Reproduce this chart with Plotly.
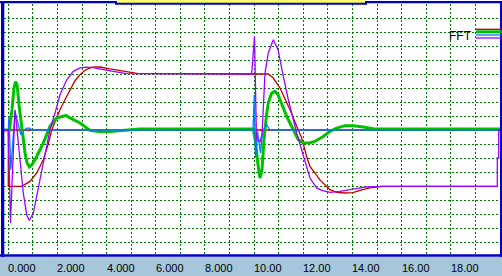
import plotly.graph_objects as go

# ---- data (time in s, value in grid units) ----
red_t = [-0.2, 0.0, 0.0, 0.545, 0.883, 1.155, 1.424, 1.615, 1.765, 2.103, 2.306, 2.51, 2.713, 2.917,
         3.12, 3.405, 3.73, 4.137, 4.544, 4.95, 5.235, 10.576, 10.779, 11.05, 11.458, 11.73, 11.934,
         12.137, 12.27, 12.678, 13.085, 13.358, 13.695, 14.02, 14.305, 14.712, 15.188, 19.866]
red_y = [0.0, 0.0, -4.03, -4.03, -3.67, -3.07, -2.12, -1.05, 0.0, 1.45, 2.16, 2.88, 3.52, 3.95,
         4.27, 4.49, 4.5, 4.36, 4.24, 4.11, 4.04, 4.0, 3.71, 3.0, 1.45, 0.26, -0.57,
         -1.89, -2.6, -3.56, -4.26, -4.45, -4.5, -4.48, -4.31, -4.14, -4.03, -4.03]

red0_t = [-0.2, 20.0]
red0_y = [0.0, 0.0]

purple_t = [-0.2, 0.0, 0.089, 0.273, 0.342, 0.476, 0.61, 0.748, 0.854, 1.017, 1.155, 1.289, 1.493,
            1.696, 1.9, 2.103, 2.375, 2.644, 2.917, 3.189, 3.445, 3.73, 4.259, 4.816, 9.9, 10.014,
            10.096, 10.238, 10.32, 10.441, 10.576, 10.779, 10.97, 11.186, 11.39, 11.73, 11.934,
            12.27, 12.543, 12.758, 13.085, 13.49, 13.898, 14.578, 15.253, 19.89, 19.89, 19.947,
            19.947, 20.0]
purple_y = [0.0, 0.0, -6.64, 1.45, 0.26, -2.12, -4.5, -6.05, -6.46, -5.93, -4.74, -3.55, -1.89,
            0.02, 1.21, 2.52, 3.59, 4.19, 4.43, 4.49, 4.45, 4.34, 4.19, 4.02, 4.0, 6.69,
            -0.69, -0.84, -0.34, 4.07, 5.5, 6.45, 5.74, 3.83, 2.16, -0.21, -1.41,
            -3.43, -4.14, -4.31, -4.46, -4.39, -4.26, -4.07, -4.03, -4.03, -2.0, -2.0,
            0.0, 0.0]

green_t = [-0.2, 0.049, 0.15, 0.232, 0.293, 0.354, 0.435, 0.545, 0.679, 0.761, 0.854, 0.964, 1.155,
           1.424, 1.696, 1.969, 2.237, 2.347, 2.51, 2.917, 3.323, 3.73, 4.137, 4.544, 5.223, 5.357,
           9.965, 10.055, 10.157, 10.238, 10.32, 10.401, 10.503, 10.576, 10.714, 10.848, 10.97,
           11.05, 11.324, 11.593, 11.796, 12.0, 12.27, 12.474, 12.812, 13.085, 13.358, 13.695,
           14.033, 14.44, 14.846, 15.253, 20.0]
green_y = [0.0, 0.0, 1.45, 3.02, 3.45, 3.24, 1.81, 0.26, -1.62, -2.34, -2.64, -2.48, -1.89,
           -0.93, 0.26, 0.86, 1.02, 1.04, 0.86, 0.5, -0.03, -0.12, -0.1, -0.05, 0.02, 0.07,
           0.07, -0.84, -2.48, -3.43, -2.84, -0.69, 1.09, 1.93, 2.64, 2.76, 2.52,
           2.16, 0.97, 0.02, -0.69, -0.93, -0.91, -0.81, -0.46, -0.1, 0.14, 0.31,
           0.31, 0.21, 0.09, 0.07, 0.07]

blue_t = [-0.2, 0.0, 0.028, 0.102, 0.273, 0.508, 0.618, 0.761, 0.883, 0.944, 9.953, 10.006, 10.055,
          10.136, 10.258, 10.34, 10.511, 10.645, 20.0]
blue_y = [0.0, 0.0, 0.97, -2.84, 1.33, -0.34, -0.05, 0.14, 0.14, 0.0, 0.0, 2.52, -1.98,
          -0.12, -1.64, -0.12, 0.38, 0.0, 0.0]

tick_vals = [0, 2, 4, 6, 8, 10, 12, 14, 16, 18]
tick_text = ["0.000", "2.000", "4.000", "6.000", "8.000", "10.00", "12.00", "14.00", "16.00", "18.00"]
legend_label = "FFT"

# ---- style ----
W, H = 502, 276
ML, MR, MT, MB = 4, 2, 4, 20
PW, PH = W - ML - MR, H - MT - MB
RED, GREEN, BLUE, PURPLE = "#c00000", "#00c000", "#0078ff", "#a000ff"
BORDER, YELLOW, BAND, GRID = "#0000c8", "#ffff66", "#a6c6dc", "#007800"


def px(x):
    return (x - ML) / PW


def py(y):
    return (H - MB - y) / PH


fig = go.Figure()
fig.add_trace(go.Scatter(x=red0_t, y=red0_y, mode="lines", line=dict(color=RED, width=1.3)))
fig.add_trace(go.Scatter(x=red_t, y=red_y, mode="lines", line=dict(color=RED, width=1.3)))
fig.add_trace(go.Scatter(x=green_t, y=green_y, mode="lines", line=dict(color=GREEN, width=3)))
fig.add_trace(go.Scatter(x=blue_t, y=blue_y, mode="lines", line=dict(color=BLUE, width=1.3)))
fig.add_trace(go.Scatter(x=purple_t, y=purple_y, mode="lines", line=dict(color=PURPLE, width=1.3)))

shapes = []


def rect(x0, y0, x1, y1, color):
    shapes.append(dict(type="rect", xref="paper", yref="paper", x0=px(x0), x1=px(x1),
                       y0=py(y0), y1=py(y1), fillcolor=color, line=dict(width=0), layer="above"))


def hline(x0, x1, y, color, w):
    shapes.append(dict(type="line", xref="paper", yref="paper", x0=px(x0), x1=px(x1),
                       y0=py(y), y1=py(y), line=dict(color=color, width=w), layer="above"))


rect(0, 257, W, H, BAND)
rect(0, 1, W, 3.3, BORDER)
rect(115, 2.6, 367, 4.8, BORDER)
rect(117, 0, 365, 2.7, YELLOW)
rect(1, 1, 4.3, 257, BORDER)
rect(0, 254.3, W, 256.8, BORDER)
rect(500, 1, W, 257, BORDER)

hline(476, 501.7, 29.3, RED, 1.3)
hline(476, 501.7, 31.8, GREEN, 3)
hline(476, 501.7, 35.0, BLUE, 1.3)
hline(476, 501.7, 38.0, PURPLE, 1.3)

annotations = [dict(x=v, y=py(267.7), xref="x", yref="paper", text=t, showarrow=False,
                    xanchor="left", yanchor="middle", xshift=-2,
                    font=dict(family="Liberation Sans, Arial", size=11, color="#000000"))
               for v, t in zip(tick_vals, tick_text)]
annotations.append(dict(x=px(460.3), y=py(35.7), xref="paper", yref="paper", text=legend_label,
                        showarrow=False, xanchor="center", yanchor="middle",
                        font=dict(family="Liberation Sans Narrow, Liberation Sans, Arial",
                                  size=12, color="#000000")))

fig.update_layout(
    width=W, height=H, margin=dict(l=ML, r=MR, t=MT, b=MB, pad=0),
    paper_bgcolor="#ffffff", plot_bgcolor="#ffffff", showlegend=False,
    shapes=shapes, annotations=annotations,
    xaxis=dict(range=[-0.175, 20.0], tickvals=list(range(0, 21)), showticklabels=False,
               showgrid=True, gridcolor=GRID, gridwidth=1, griddash="2px,2px",
               zeroline=False, showline=False, ticks=""),
    yaxis=dict(range=[-9, 9], tickvals=list(range(-9, 10)), showticklabels=False,
               showgrid=True, gridcolor=GRID, gridwidth=1, griddash="2px,2px",
               zeroline=False, showline=False, ticks=""),
)

fig.write_html("out.html", config={"displayModeBar": False})
